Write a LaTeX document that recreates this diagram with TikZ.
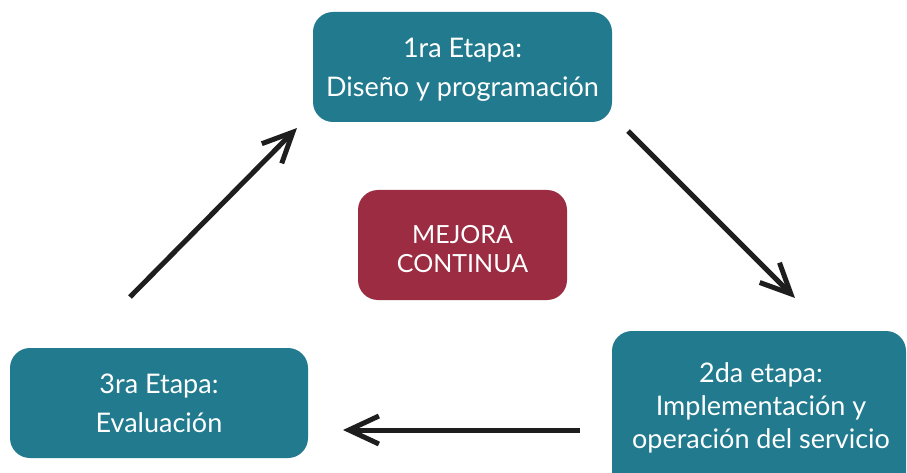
\documentclass[tikz,border=0pt]{standalone}
\usepackage{fontspec}
\setmainfont{Lato}
\usetikzlibrary{arrows.meta}
\definecolor{tealbox}{HTML}{217A8E}
\definecolor{redbox}{HTML}{9B2C42}
\tikzset{
  stagebox/.style={fill=tealbox, rounded corners=20pt, text=white, align=center, font=\fontsize{27}{39}\selectfont, inner sep=0pt},
  centerbox/.style={fill=redbox, rounded corners=20pt, text=white, align=center, font=\fontsize{25}{29}\selectfont, inner sep=0pt},
  flow/.style={line width=5pt, draw={rgb,255:red,30;green,30;blue,30}, -{Straight Barb[length=30pt,width=28pt]}}
}
\begin{document}
\begin{tikzpicture}[x=1pt,y=-1pt]
\clip (0,0) rectangle (907,473);
\useasboundingbox (0,0) rectangle (907,473);
\node[fill=tealbox, rounded corners=20pt, minimum width=299pt, minimum height=110pt] (s1) at (462.5,67) {};
\node[text=white, align=center, font=\fontsize{27}{39}\selectfont, inner sep=0pt] (s1t) at (462.5,70) {1ra Etapa:\\Diseño y programación};
\node[fill=redbox, rounded corners=20pt, minimum width=209pt, minimum height=110pt] (mc) at (462.5,245) {};
\node[text=white, align=center, font=\fontsize{25}{29}\selectfont, inner sep=0pt] (mct) at (462.5,249) {MEJORA\\CONTINUA};
\node[stagebox, minimum width=298pt, minimum height=110pt] (s3) at (159,403) {3ra Etapa:\\Evaluación};
\node[stagebox, minimum width=294pt, minimum height=170pt] (s2) at (759,416) {};
\node[text=white, align=center, font=\fontsize{27}{33}\selectfont] (s2t) at (761,408) {2da etapa:\\Implementación y\\operación del servicio};
\coordinate (a1s) at (628,131);
\coordinate (a1e) at (795,298);
\coordinate (a2s) at (580,430);
\coordinate (a2e) at (343,430);
\coordinate (a3s) at (130,297);
\coordinate (a3e) at (297,128);
\draw[flow] (a1s) -- (a1e);
\draw[flow] (a2s) -- (a2e);
\draw[flow] (a3s) -- (a3e);
\end{tikzpicture}
\end{document}
